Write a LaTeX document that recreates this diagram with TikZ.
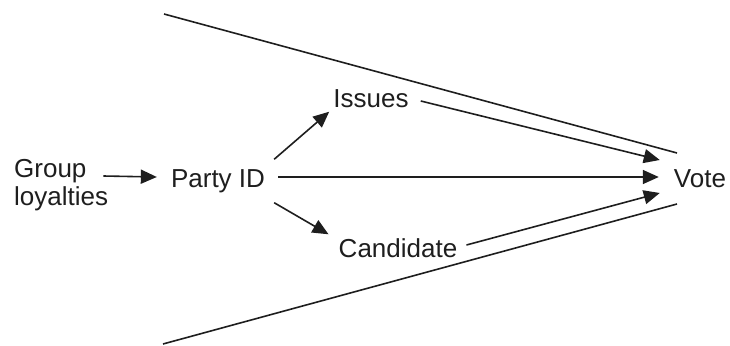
\documentclass[tikz,border=0pt]{standalone}
\usepackage{fontspec}
\setmainfont{Liberation Sans}
\usetikzlibrary{arrows.meta}
\definecolor{ink}{HTML}{1E1E1E}
\begin{document}
\begin{tikzpicture}[x=1pt,y=-1pt,
  lbl/.style={inner sep=0pt, text=ink, font=\fontsize{26}{28}\selectfont, text height=19pt, text depth=0pt},
  arr/.style={draw=ink, line width=1.6pt, -{Triangle[length=16pt,width=14pt]}},
  edge/.style={draw=ink, line width=1.6pt}]
\useasboundingbox (0,0) rectangle (730,345);
\node[lbl, anchor=west, align=left, text height=, text depth=] (grp) at (14,185) {Group\\loyalties};
\node[lbl] (pid) at (218,178) {Party ID};
\node[lbl] (iss) at (371,98) {Issues};
\node[lbl] (cand) at (398,248) {Candidate};
\node[lbl] (vote) at (700,178) {Vote};
\draw[arr] ([shift={(-5,-9)}]grp.east) -- ([shift={(-14,-1)}]pid.west);
\draw[arr] ([shift={(13,-1)}]pid.east) -- ([shift={(-15,-1)}]vote.west);
\draw[arr] ([shift={(9,-9)}]pid.north east) -- ([shift={(-4,4)}]iss.south west);
\draw[arr] ([shift={(9,15)}]pid.south east) -- ([shift={(-10,-4)}]cand.north west);
\draw[arr] ([shift={(12,3)}]iss.east) -- ([shift={(-14,-18)}]vote.west);
\draw[arr] ([shift={(9,-3)}]cand.east) -- ([shift={(-14,15)}]vote.west);
\draw[edge] (164,14) -- (677,153);
\draw[edge] (163,344) -- (677,204);
\end{tikzpicture}
\end{document}
